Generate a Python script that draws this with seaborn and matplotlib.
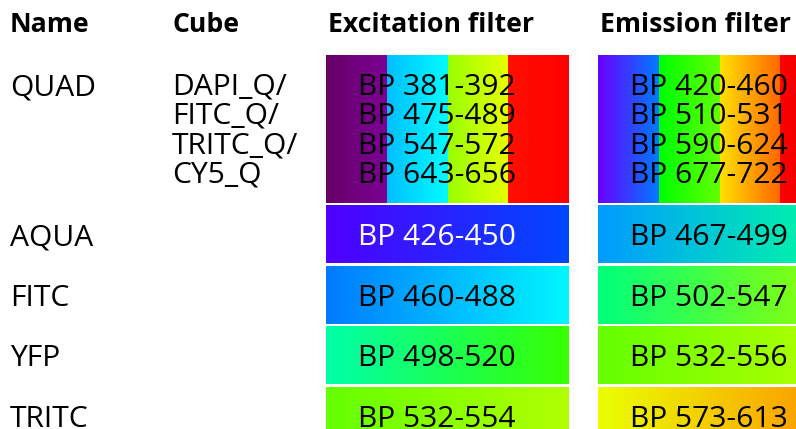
import numpy as np
import matplotlib
matplotlib.use("Agg")
import matplotlib.pyplot as plt
import seaborn as sns

# table content
headers = ["Name", "Cube", "Excitation filter", "Emission filter"]
names = ["QUAD", "AQUA", "FITC", "YFP", "TRITC"]
cubes = [["DAPI_Q/", "FITC_Q/", "TRITC_Q/", "CY5_Q"], [], [], [], []]
excitation = [[(381, 392), (475, 489), (547, 572), (643, 656)],
              [(426, 450)], [(460, 488)], [(498, 520)], [(532, 554)]]
emission = [[(420, 460), (510, 531), (590, 624), (677, 722)],
            [(467, 499)], [(502, 547)], [(532, 556)], [(573, 613)]]


def wavelength_to_rgb(w, gamma=0.8):
    """Approximate visible colour of a wavelength in nm."""
    w = np.atleast_1d(np.asarray(w, dtype=float))
    r = np.zeros_like(w); g = np.zeros_like(w); b = np.zeros_like(w)
    m = w < 440
    r[m] = -(w[m] - 440) / 60; b[m] = 1
    m = (w >= 440) & (w < 490)
    g[m] = (w[m] - 440) / 50; b[m] = 1
    m = (w >= 490) & (w < 510)
    g[m] = 1; b[m] = -(w[m] - 510) / 20
    m = (w >= 510) & (w < 580)
    r[m] = (w[m] - 510) / 70; g[m] = 1
    m = (w >= 580) & (w < 645)
    r[m] = 1; g[m] = -(w[m] - 645) / 65
    m = w >= 645
    r[m] = 1
    f = np.ones_like(w)
    m = w < 420
    f[m] = 0.3 + 0.7 * (w[m] - 380) / 40
    m = w > 700
    f[m] = 0.3 + 0.7 * (780 - w[m]) / 80
    rgb = np.stack([r, g, b], axis=-1) * f[..., None]
    return np.clip(rgb, 0, 1) ** gamma


def band_gradient(lo, hi, n=64):
    # plain rgb blend between the two edge colours of the band
    c0 = wavelength_to_rgb(lo)[0]
    c1 = wavelength_to_rgb(hi)[0]
    pal = sns.blend_palette([c0, c1], n_colors=n)
    return np.array(pal)[None, :, :]


sns.set_theme(style="white")
plt.rcParams["font.family"] = ["Open Sans", "DejaVu Sans"]
plt.rcParams["text.color"] = "black"

fig = plt.figure(figsize=(7.96, 4.29), dpi=100)
ax = fig.add_axes([0, 0, 1, 1])
ax.set_xlim(0, 796)
ax.set_ylim(429, 0)
ax.axis("off")

fs = 21.6
col_x = [10, 172, 326, 598]
cell_w = 243
text_dx = 32
pitch = 29.4

for x, h in zip(col_x, headers):
    ax.text(x + (2 if x > 300 else 0), 32, h, fontsize=19.2, fontweight="bold",
            va="baseline", ha="left", color="black")

top = 55
for i, name in enumerate(names):
    n = len(excitation[i])
    h = 148 if n > 1 else 57.5
    if n > 1:
        baselines = [top + 40 + k * pitch for k in range(n)]
    else:
        baselines = [top + h / 2 + 10.5]

    ax.text(col_x[0], baselines[0], name, fontsize=fs, va="baseline", color="black")
    for k, c in enumerate(cubes[i]):
        ax.text(col_x[1], baselines[0] + k * pitch - 0.5, c, fontsize=fs,
                va="baseline", color="black")

    for cx, ranges in ((col_x[2], excitation[i]), (col_x[3], emission[i])):
        seg_w = cell_w / len(ranges)
        for k, (lo, hi) in enumerate(ranges):
            ax.imshow(band_gradient(lo, hi),
                      extent=[cx + k * seg_w, cx + (k + 1) * seg_w, top + h, top],
                      aspect="auto", interpolation="bilinear", zorder=1)
        for k, (lo, hi) in enumerate(ranges):
            tc = "black"
            if len(ranges) == 1:
                mid = wavelength_to_rgb((lo + hi) / 2)[0]
                lum = 0.299 * mid[0] + 0.587 * mid[1] + 0.114 * mid[2]
                tc = "white" if lum < 0.35 else "black"
            ax.text(cx + text_dx, baselines[k], f"BP {lo}-{hi}", fontsize=fs,
                    va="baseline", ha="left", color=tc, zorder=3)
    top += h + 3

ax.set_xlim(0, 796)
ax.set_ylim(429, 0)
fig.savefig("out.png", dpi=100)
